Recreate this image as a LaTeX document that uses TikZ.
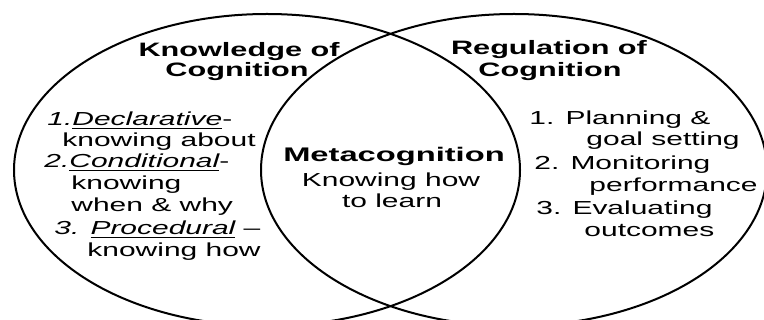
\documentclass[tikz,border=0pt]{standalone}
\usepackage{fontspec}
\setmainfont{Liberation Sans}
\begin{document}
\begin{tikzpicture}[
            x=0.025cm, y=-0.025cm,
            ring/.style={line width=0.05cm},
            label/.style={inner sep=0pt},
            item/.style={label, anchor=base west, xscale=1.59,
            font=\fontsize{13.4pt}{15.6pt}\selectfont},
            head/.style={label, anchor=base, xscale=1.58,
            font=\fontsize{13.8pt}{16pt}\selectfont\bfseries},
            core/.style={label, anchor=base, xscale=1.66,
            font=\fontsize{14pt}{16pt}\selectfont\bfseries},
            sub/.style={label, anchor=base, xscale=1.59,
            font=\fontsize{13.4pt}{15.6pt}\selectfont}
        ]
            \useasboundingbox (0,0) rectangle (764,320);
            \begin{scope}
                \clip (0,0) rectangle (764,320);
                \draw [ring] (267,170) ellipse [x radius=253, y radius=156];
                \draw [ring] (514,170) ellipse [x radius=253, y radius=156];
            \end{scope}

            \node (know1) [head] at (239,57) {Knowledge of};
            \node (know2) [head] at (237,77) {Cognition};
            \node (reg1) [head] at (549,55) {Regulation of};
            \node (reg2) [head] at (550,77) {Cognition};

            \node (meta) [core] at (394,162) {Metacognition};
            \node (meta1) [sub] at (391,187) {Knowing how};
            \node (meta2) [sub] at (392,208) {to learn};

            \node (decl) [item] at (47,126) {\textit{1.\underline{Declarative}}-};
            \node (decl1) [item] at (62,147) {knowing about};
            \node (cond) [item] at (44,168) {\textit{2.\underline{Conditional}}-};
            \node (cond1) [item] at (71,190) {knowing};
            \node (cond2) [item] at (71,212) {when \& why};
            \node (proc) [item] at (54,235) {\textit{3. \underline{Procedural}} --};
            \node (proc1) [item] at (87,257) {knowing how};

            \node (plan) [item] at (529,125) {1. Planning \&};
            \node (plan1) [item] at (586,146) {goal setting};
            \node (mon) [item] at (534,170) {2. Monitoring};
            \node (mon1) [item] at (589,192) {performance};
            \node (eval) [item] at (536,215) {3. Evaluating};
            \node (eval1) [item] at (584,237) {outcomes};
        \end{tikzpicture}
\end{document}
